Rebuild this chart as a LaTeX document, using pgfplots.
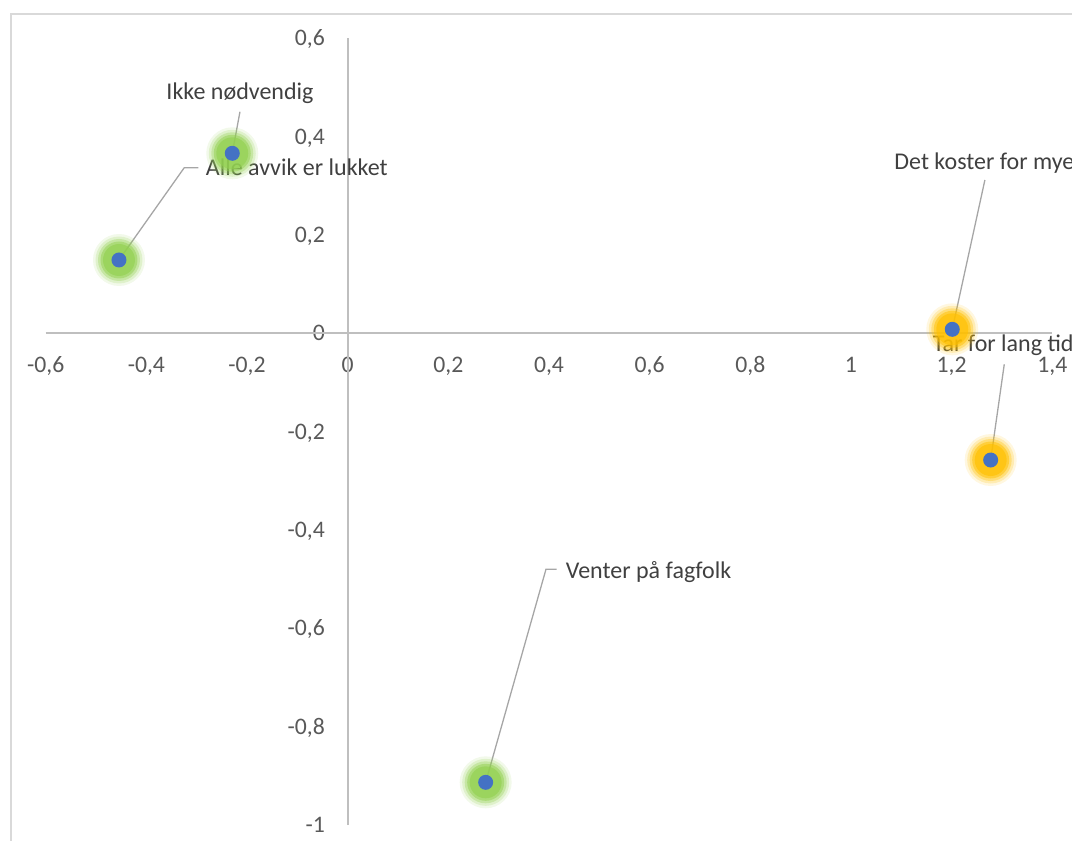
\documentclass[border=0pt]{standalone}
\usepackage{fontspec}
\setmainfont{Carlito}
\usepackage{pgfplots}
\usepackage{pgfplotstable}
\pgfplotsset{compat=1.18}
\definecolor{axgray}{HTML}{BFBFBF}
\definecolor{ticktext}{HTML}{595959}
\definecolor{labeltext}{HTML}{404040}
\definecolor{bordergray}{HTML}{D9D9D9}
\definecolor{leader}{HTML}{A6A6A6}
\definecolor{dotblue}{HTML}{4472C4}
\definecolor{glowgreen}{HTML}{92D050}
\definecolor{gloworange}{HTML}{FFC000}

\pgfplotstableread{
x y
-0.4544 0.1491
-0.2293 0.3661
0.2742 -0.9132
}\greenpts
\pgfplotstableread{
x y
1.2013 0.0081
1.2776 -0.2577
}\orangepts

\newcommand\lblfont{\fontsize{23.7bp}{28bp}\selectfont}
\newcommand\datafont{\fontsize{24bp}{28bp}\selectfont}
\pgfplotsset{
  glow/.style n args={3}{only marks, mark=*, mark size=#2,
     mark options={fill=#1, draw opacity=0, line width=0pt, fill opacity=#3}},
}

\begin{document}
\begin{tikzpicture}
\useasboundingbox (0,0) rectangle (1072bp,841bp);
\clip (0,0) rectangle (1072bp,841bp);
\draw[bordergray, line width=1.5bp] (11bp,-20bp) rectangle (1100bp,827bp);
\begin{axis}[
  at={(45.7bp,16bp)}, anchor=south west,
  scale only axis, width=1006.6bp, height=786.7bp,
  xmin=-0.6, xmax=1.4, ymin=-1, ymax=0.6,
  axis lines=left,
  axis line style={draw=none},
  xtick={-0.6,-0.4,-0.2,0,0.2,0.4,0.6,0.8,1,1.2,1.4},
  ytick={-1,-0.8,-0.6,-0.4,-0.2,0,0.2,0.4,0.6},
  major tick length=0pt,
  tick style={draw=none},
  /pgf/number format/use comma,
  /pgf/number format/assume math mode=true,
  /pgf/number format/fixed,
  /pgf/number format/precision=1,
  tick label style={font=\lblfont, text=ticktext, inner sep=0pt},
  xticklabel style={anchor=base, yshift=452.3bp},
  yticklabel style={anchor=base east, xshift=279.3bp, yshift=-7.4bp},
  clip=false,
]
% zero lines (axes through origin)
\draw[axgray, line width=1.8bp] (axis cs:-0.6,0) -- (axis cs:1.4,0);
\draw[axgray, line width=1.8bp] (axis cs:0,-1) -- (axis cs:0,0.6);
% glow layers
\addplot[glow={glowgreen}{26bp}{0.12}] table[x=x,y=y]{\greenpts};
\addplot[glow={glowgreen}{23.5bp}{0.2}] table[x=x,y=y]{\greenpts};
\addplot[glow={glowgreen}{21bp}{0.32}] table[x=x,y=y]{\greenpts};
\addplot[glow={glowgreen}{18.5bp}{0.5}] table[x=x,y=y]{\greenpts};
\addplot[glow={glowgreen}{16bp}{0.65}] table[x=x,y=y]{\greenpts};
\addplot[glow={gloworange}{26bp}{0.12}] table[x=x,y=y]{\orangepts};
\addplot[glow={gloworange}{23.5bp}{0.2}] table[x=x,y=y]{\orangepts};
\addplot[glow={gloworange}{21bp}{0.32}] table[x=x,y=y]{\orangepts};
\addplot[glow={gloworange}{18.5bp}{0.5}] table[x=x,y=y]{\orangepts};
\addplot[glow={gloworange}{16bp}{0.65}] table[x=x,y=y]{\orangepts};
% dots
\addplot[glow={dotblue}{7.5bp}{1}] table[x=x,y=y]{\greenpts};
\addplot[glow={dotblue}{7.5bp}{1}] table[x=x,y=y]{\orangepts};
% leader lines
\draw[leader, line width=1.3bp] (axis cs:-0.4544,0.1491) -- (axis cs:-0.3247,0.3368) -- (axis cs:-0.2968,0.3368);
\draw[leader, line width=1.3bp] (axis cs:-0.2293,0.3661) -- (axis cs:-0.2140,0.4507);
\draw[leader, line width=1.3bp] (axis cs:1.2013,0.0081) -- (axis cs:1.2661,0.3118);
\draw[leader, line width=1.3bp] (axis cs:1.2776,-0.2577) -- (axis cs:1.3046,-0.0630);
\draw[leader, line width=1.3bp] (axis cs:0.2742,-0.9132) -- (axis cs:0.3940,-0.4800) -- (axis cs:0.4153,-0.4800);
% labels
\node[anchor=base west, font=\datafont, text=labeltext, inner sep=0pt] at (axis cs:-0.2821,0.3205) {Alle avvik er lukket};
\node[anchor=base, font=\datafont, text=labeltext, inner sep=0pt] at (axis cs:-0.2140,0.4745) {Ikke nødvendig};
\node[anchor=base west, font=\datafont, text=labeltext, inner sep=0pt] at (axis cs:1.0860,0.3335) {Det koster for mye};
\node[anchor=base west, font=\datafont, text=labeltext, inner sep=0pt] at (axis cs:1.1623,-0.0374) {Tar for lang tid};
\node[anchor=base west, font=\datafont, text=labeltext, inner sep=0pt] at (axis cs:0.4331,-0.4983) {Venter på fagfolk};
\end{axis}
\end{tikzpicture}
\end{document}
